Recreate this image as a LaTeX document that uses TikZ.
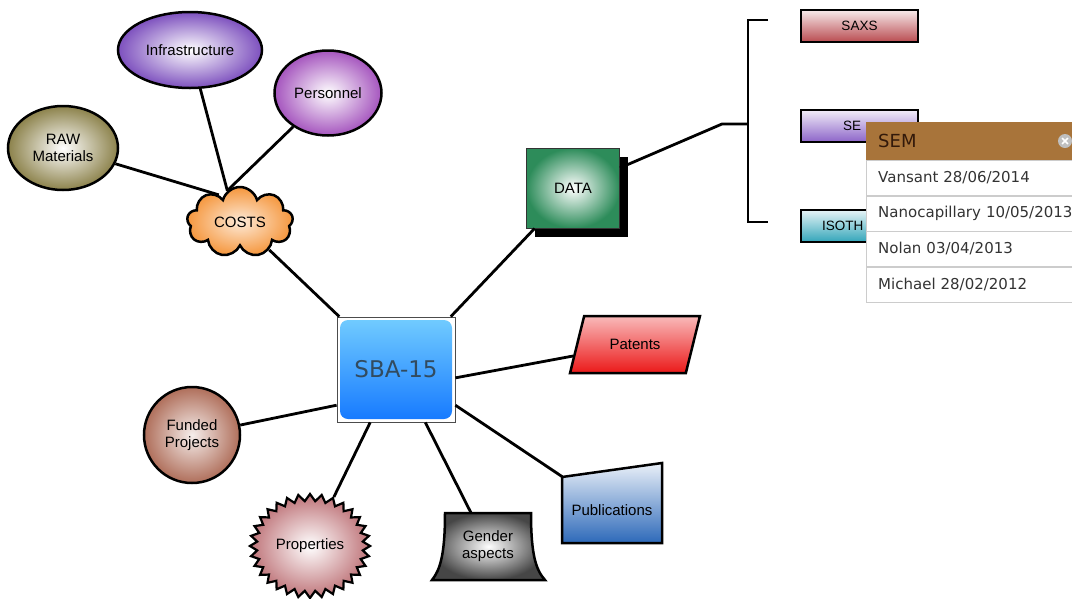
\documentclass[tikz,border=0pt]{standalone}
\usepackage{fontspec}
\setmainfont{Liberation Sans}
\newfontfamily\sbafont{DejaVu Sans}
\newfontfamily\popfont{DejaVu Sans}
\usetikzlibrary{positioning,shapes.geometric,shapes.symbols,shadows}

\definecolor{infraC}{RGB}{125,80,190}
\definecolor{persC}{RGB}{165,85,190}
\definecolor{rawC}{RGB}{140,130,75}
\definecolor{costC}{RGB}{245,150,60}
\definecolor{dataC}{RGB}{45,140,90}
\definecolor{fundC}{RGB}{175,110,90}
\definecolor{propC}{RGB}{190,115,120}
\definecolor{genderC}{RGB}{70,70,70}
\definecolor{pubC}{RGB}{45,105,185}
\definecolor{patC}{RGB}{235,25,25}
\definecolor{saxsC}{RGB}{185,75,80}
\definecolor{semC}{RGB}{140,100,200}
\definecolor{isoC}{RGB}{50,165,185}
\definecolor{popC}{RGB}{168,116,58}
\definecolor{popText}{RGB}{50,25,10}
\definecolor{sbaTop}{RGB}{115,205,255}
\definecolor{sbaBot}{RGB}{20,120,255}
\definecolor{sbaText}{RGB}{50,75,95}

\newcommand{\topicfont}{\fontsize{15}{17}\selectfont}

\tikzset{
  topic/.style={draw, line width=2.5pt, align=center, font=\topicfont},
  bubble/.style={topic, ellipse, inner color=white, outer color=#1},
  tech/.style={draw, line width=2.6pt, minimum width=117pt, minimum height=32pt, top color=#1!12!white, bottom color=#1, font=\fontsize{13.5}{15}\selectfont},
  link/.style={line width=2.8pt},
  poprow/.style={draw=black!20, fill=white, anchor=north west, minimum height=35pt, text width=230pt, inner xsep=12pt, align=left, font=\popfont\fontsize{15}{17}\selectfont, text=black!80},
}

\begin{document}
\begin{tikzpicture}[x=1pt, y=-1pt]
    \useasboundingbox (0,0) rectangle (1072,598);
    \clip (0,0) rectangle (1072,598);

    % Costs branch
    \node[bubble=infraC, minimum width=144pt, minimum height=76pt] (infra) at (190,50) {Infrastructure};
    \node[bubble=persC, minimum width=107pt, minimum height=85pt] (pers) at (328,93) {Personnel};
    \node[bubble=rawC, minimum width=110pt, minimum height=84pt] (raw) at (63,148) {RAW\\Materials};
    \node[topic, cloud, cloud puffs=9, cloud ignores aspect, inner color=costC!20!white, outer color=costC,
          minimum width=106pt, minimum height=70pt] (costs) at (240,222) {COSTS};

    % Data node
    \node[draw=black!80, line width=1pt, inner color=white, outer color=dataC, minimum width=93pt, minimum height=80pt,
          drop shadow={shadow xshift=8pt, shadow yshift=-9pt, fill=black, opacity=1}, font=\topicfont] (data) at (573,188) {DATA};

    % Main node
    \node[draw=black!70, line width=0.8pt, minimum width=118pt, minimum height=105pt,
          path picture={\shade[top color=sbaTop, bottom color=sbaBot, rounded corners=8pt]
            ([shift={(3pt,3pt)}]path picture bounding box.south west) rectangle
            ([shift={(-3pt,-3pt)}]path picture bounding box.north east);},
          font=\sbafont\fontsize{23}{25}\selectfont, text=sbaText] (sba) at (396,369.5) {SBA-15};

    % Outputs
    \node[topic, trapezium, trapezium left angle=65, trapezium right angle=115, trapezium stretches=true,
          minimum width=130pt, minimum height=57pt, top color=patC!30!white, bottom color=patC] (pat) at (635,344.5) {Patents};
    \node[topic, circle, inner color=fundC!12!white, outer color=fundC, minimum size=96pt] (fund) at (192,435) {Funded\\Projects};
    \node[topic, starburst, starburst points=32, starburst point height=7pt, random starburst=0, line width=2.2pt,
          inner color=white, outer color=propC, minimum width=104pt, minimum height=104pt] (prop) at (310,546) {Properties};

    % Gender aspects (tower shape)
    \shade[draw, line width=2.5pt, inner color=white, outer color=genderC]
        (445,513) -- (531,513) .. controls (531,555) and (536,570) .. (545,580)
        -- (432,580) .. controls (440,570) and (445,555) .. (445,513) -- cycle;
    \node[align=center, font=\topicfont, minimum width=113pt, minimum height=67pt] (gender) at (488,546.5) {Gender\\aspects};

    % Publications (slanted top)
    \shade[draw, line width=2.5pt, top color=pubC!10!white, bottom color=pubC]
        (562,477) -- (662,463) -- (662,543) -- (562,543) -- cycle;
    \node[font=\topicfont, minimum width=100pt, minimum height=66pt] (pubs) at (612,510) {Publications};

    % Connectors
    \draw[link] (infra) -- (costs.112);
    \draw[link] (pers) -- (costs.112);
    \draw[link] (raw) -- (costs.128);
    \draw[link] (sba.137) -- (costs);
    \draw[link] (sba.44) -- (data);
    \draw[link] (sba.352) -- (pat);
    \draw[link] (sba.211) -- (fund);
    \draw[link] (sba.244) -- (prop);
    \draw[link] (sba.299) -- (gender);
    \draw[link] (sba.329) -- (pubs);

    % Bracket to techniques
    \coordinate (brk) at (722,124);
    \draw[link] (data) -- (brk) -- (748,124);
    \draw[link] (768,20) -- (748,20) -- (748,222) -- (768,222);

    \node[tech=saxsC] (saxs) at (859.5,26) {SAXS};
    \node[tech=semC, text width=33pt, inner xsep=42pt, align=left] (sem) at (859.5,126) {SE};
    \node[tech=isoC, text width=75pt, inner xsep=21pt, align=left] (iso) at (859.5,226) {ISOTH};

    % Popup list
    \node[poprow, fill=popC, draw=popC, minimum height=38pt, text=popText,
          font=\popfont\fontsize{18}{20}\selectfont] (pophead) at (866,122) {SEM};
    \node[poprow, below=0pt of pophead] (row1) {Vansant 28/06/2014};
    \node[poprow, below=0pt of row1] (row2) {Nanocapillary 10/05/2013};
    \node[poprow, below=0pt of row2] (row3) {Nolan 03/04/2013};
    \node[poprow, below=0pt of row3] (row4) {Michael 28/02/2012};

    % Close button
    \node[circle, fill=black!25, minimum size=14pt, inner sep=0pt] (close) at (1065,141) {};
    \draw[white, line width=1.5pt, shorten >=3pt, shorten <=3pt] (close.45) -- (close.225);
    \draw[white, line width=1.5pt, shorten >=3pt, shorten <=3pt] (close.135) -- (close.315);
\end{tikzpicture}
\end{document}
